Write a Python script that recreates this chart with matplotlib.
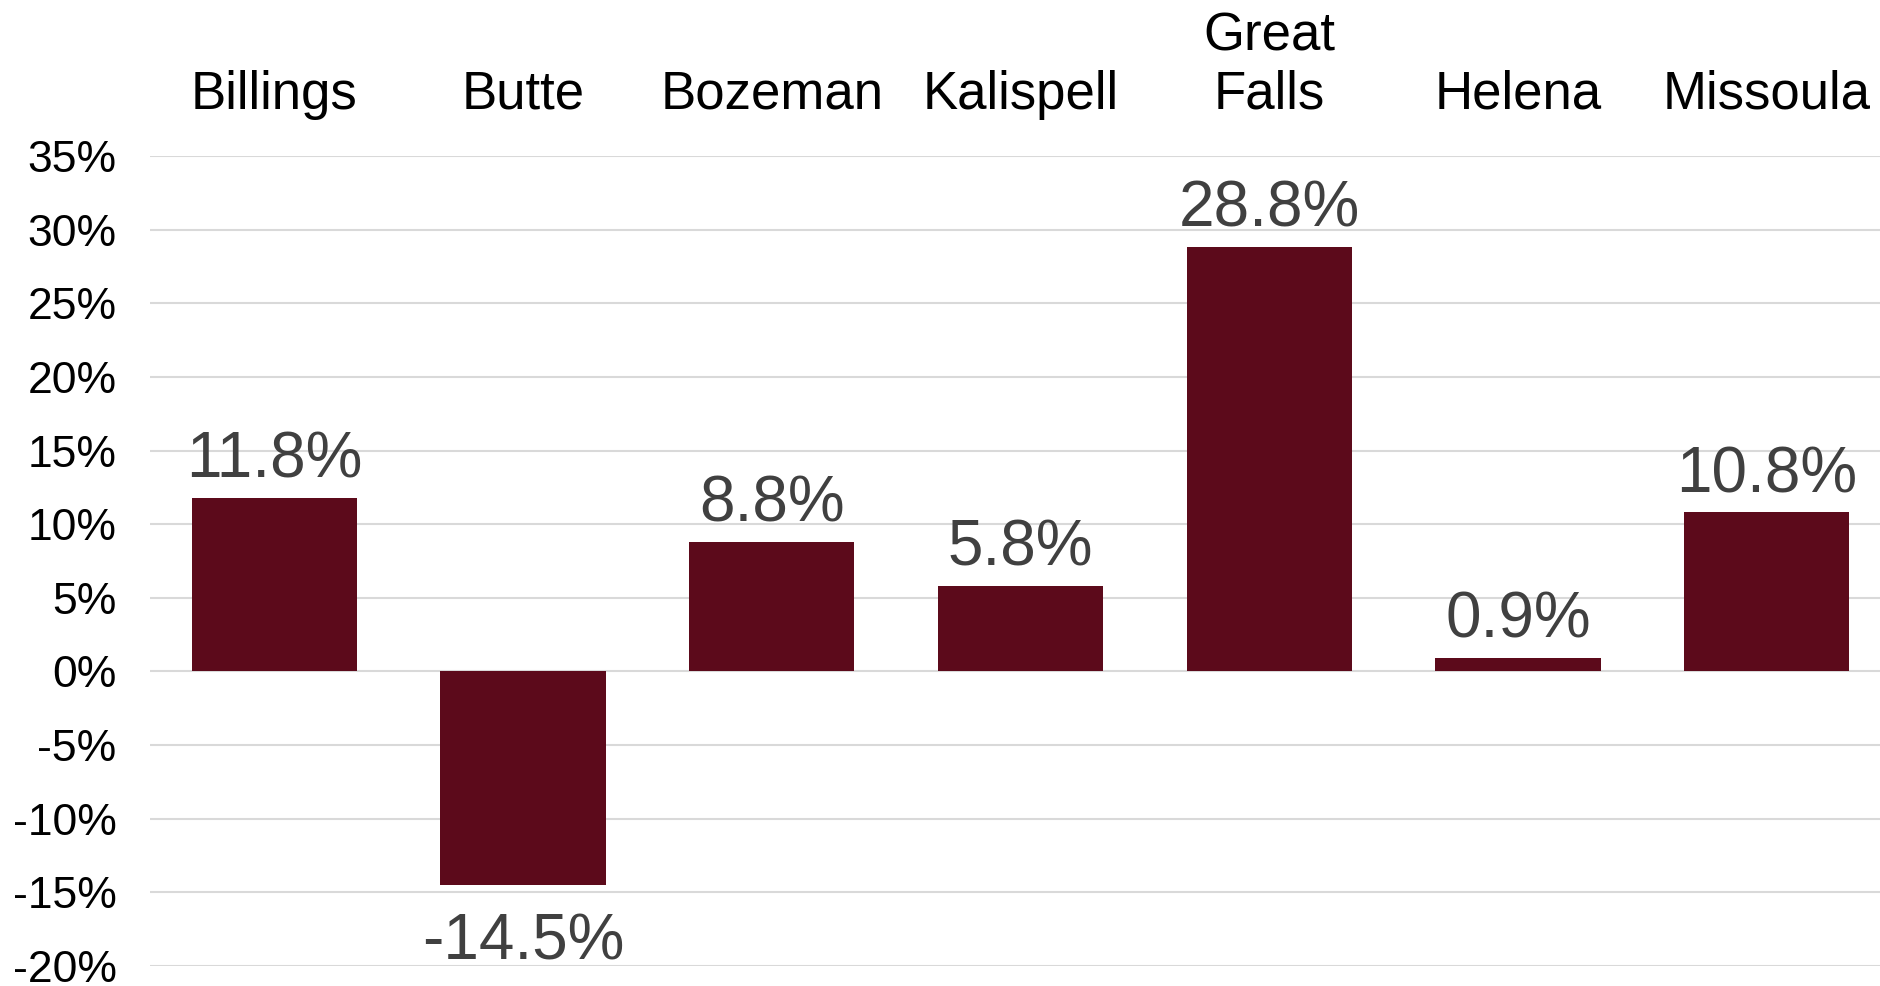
import numpy as np
import matplotlib
matplotlib.use('Agg')
from matplotlib import pyplot as plt

plt.rcParams['font.family'] = ['Liberation Sans', 'DejaVu Sans']

cities = ['Billings', 'Butte', 'Bozeman', 'Kalispell', 'Great\nFalls', 'Helena', 'Missoula']
change = [11.8, -14.5, 8.8, 5.8, 28.8, 0.9, 10.8]
yticks = [35, 30, 25, 20, 15, 10, 5, 0, -5, -10, -15, -20]

bar_color = '#5c0a1b'

fig = plt.figure(figsize=(18.8, 9.86), dpi=100)
ax = fig.add_axes([150 / 1880, 20 / 986, 1741 / 1880, 810 / 986])

x = np.arange(len(cities))
bars = ax.bar(x, change, width=0.665, color=bar_color, zorder=3)

ax.set_xlim(-0.5, len(cities) - 0.5)
ax.set_ylim(-20, 35)
ax.set_yticks(yticks)
ax.set_yticklabels(['%d%%' % t for t in yticks], fontsize=32)
ax.grid(axis='y', color='#d9d9d9', linewidth=1.5, zorder=0)
ax.tick_params(axis='y', length=0, pad=24)

# category names on top
ax.xaxis.tick_top()
ax.set_xticks(x)
ax.set_xticklabels(cities, fontsize=38, linespacing=1.22)
ax.tick_params(axis='x', length=0, pad=26)

for s in ax.spines.values():
    s.set_visible(False)

for xi, v in zip(x, change):
    if v >= 0:
        ax.text(xi, v + 0.5, '%.1f%%' % v, ha='center', va='bottom',
                fontsize=46, color='#404040')
    else:
        ax.text(xi, v - 1.9, '%.1f%%' % v, ha='center', va='top',
                fontsize=46, color='#404040')

fig.savefig('out.png', dpi=100)
